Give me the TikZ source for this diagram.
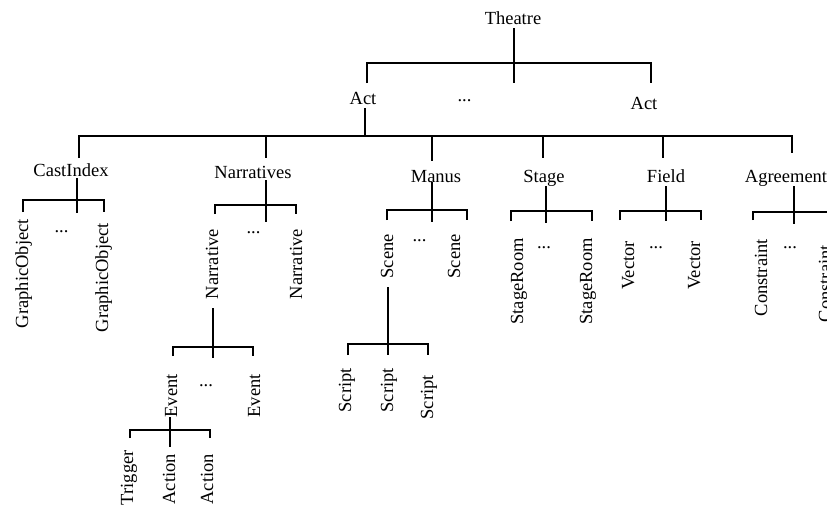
\documentclass[tikz,border=0pt]{standalone}
\usepackage{fontspec}
\setmainfont{Liberation Serif}
\tikzset{
  lbl/.style={inner sep=0pt, font=\fontsize{18.5}{22}\selectfont, anchor=base},
  vlbl/.style={inner sep=0pt, font=\fontsize{18.5}{22}\selectfont, rotate=90,
               anchor=east, text height=13pt, text depth=4pt},
  link/.style={line width=2.7pt, line join=miter, line cap=butt},
}
\begin{document}
\begin{tikzpicture}[x=1pt,y=-1pt]
\useasboundingbox (0,0) rectangle (827,507);

% ---------- labels ----------
\node[lbl] (theatre) at (513,24) {Theatre};
\node[lbl] (act1)    at (363,104) {Act};
\node[lbl] (actdots) at (464.5,101) {...};
\node[lbl] (act2)    at (644,109) {Act};

\node[lbl] (cast)   at (71,176)  {CastIndex};
\node[lbl] (narrs)  at (253,178) {Narratives};
\node[lbl] (manus)  at (436,182) {Manus};
\node[lbl] (stage)  at (544,182) {Stage};
\node[lbl] (field)  at (666,182) {Field};
\node[lbl] (agree)  at (786,182) {Agreement};

% cast index
\node[vlbl] (go1) at (23.5,219) {GraphicObject};
\node[lbl]  (godots) at (61.5,232) {...};
\node[vlbl] (go2) at (103.5,223) {GraphicObject};

% narratives
\node[vlbl] (narr1) at (213.5,229) {Narrative};
\node[lbl]  (narrdots) at (253.5,233) {...};
\node[vlbl] (narr2) at (297.5,229) {Narrative};

\node[vlbl] (ev1) at (172.5,374) {Event};
\node[lbl]  (evdots) at (206,386) {...};
\node[vlbl] (ev2) at (255.5,374) {Event};

\node[vlbl] (trig) at (128.5,450) {Trigger};
\node[vlbl] (actn1) at (170.5,454) {Action};
\node[vlbl] (actn2) at (208.5,454) {Action};

% manus
\node[vlbl] (sc1) at (388.5,234) {Scene};
\node[lbl]  (scdots) at (419.5,241) {...};
\node[vlbl] (sc2) at (455.5,234) {Scene};

\node[vlbl] (scr1) at (346.5,368) {Script};
\node[vlbl] (scr2) at (388.5,368) {Script};
\node[vlbl] (scr3) at (428.5,375) {Script};

% stage
\node[vlbl] (room1) at (518.5,238) {StageRoom};
\node[lbl]  (roomdots) at (544,248) {...};
\node[vlbl] (room2) at (587.5,238) {StageRoom};

% field
\node[vlbl] (vec1) at (629.5,241) {Vector};
\node[lbl]  (vecdots) at (656,248) {...};
\node[vlbl] (vec2) at (695.5,241) {Vector};

% agreement (the last column runs past the right edge)
\node[vlbl] (con1) at (762.5,239) {Constraint};
\node[lbl]  (condots) at (790,248) {...};
\node[vlbl] (con2) at (826.5,245) {Constraint};

% ---------- connectors ----------
% Theatre -> Act ... Act
\draw[link] (514,28) -- (514,83);
\draw[link] (367,83) -- (367,63) -- (651,63) -- (651,83);

% Act -> components
\draw[link] (365,108) -- (365,136);
\draw[link] (79,158) -- (79,136) -- (792,136) -- (792,153);
\draw[link] (266,136) -- (266,158);
\draw[link] (432,136) -- (432,161);
\draw[link] (543,136) -- (543,158);
\draw[link] (663,136) -- (663,158);

% CastIndex
\draw[link] (77,178) -- (77,213);
\draw[link] (23,212) -- (23,200) -- (104,200) -- (104,212);

% Narratives
\draw[link] (266,180) -- (266,222);
\draw[link] (215,214) -- (215,205) -- (296,205) -- (296,214);

% Narrative
\draw[link] (213,308) -- (213,358);
\draw[link] (173,356) -- (173,347) -- (253,347) -- (253,356);

% Event
\draw[link] (170,417) -- (170,447);
\draw[link] (130,438) -- (130,430) -- (210,430) -- (210,438);

% Manus
\draw[link] (432,182) -- (432,222);
\draw[link] (387,220) -- (387,210) -- (467,210) -- (467,220);

% Scene
\draw[link] (388,287) -- (388,355);
\draw[link] (348,355) -- (348,344) -- (428,344) -- (428,355);

% Stage
\draw[link] (546,186) -- (546,223);
\draw[link] (511,221) -- (511,211) -- (592,211) -- (592,221);

% Field
\draw[link] (666,186) -- (666,221);
\draw[link] (620,220) -- (620,211) -- (701,211) -- (701,220);

% Agreement
\draw[link] (794,186) -- (794,224);
\draw[link] (753,220) -- (753,212) -- (834,212) -- (834,220);
\end{tikzpicture}
\end{document}
